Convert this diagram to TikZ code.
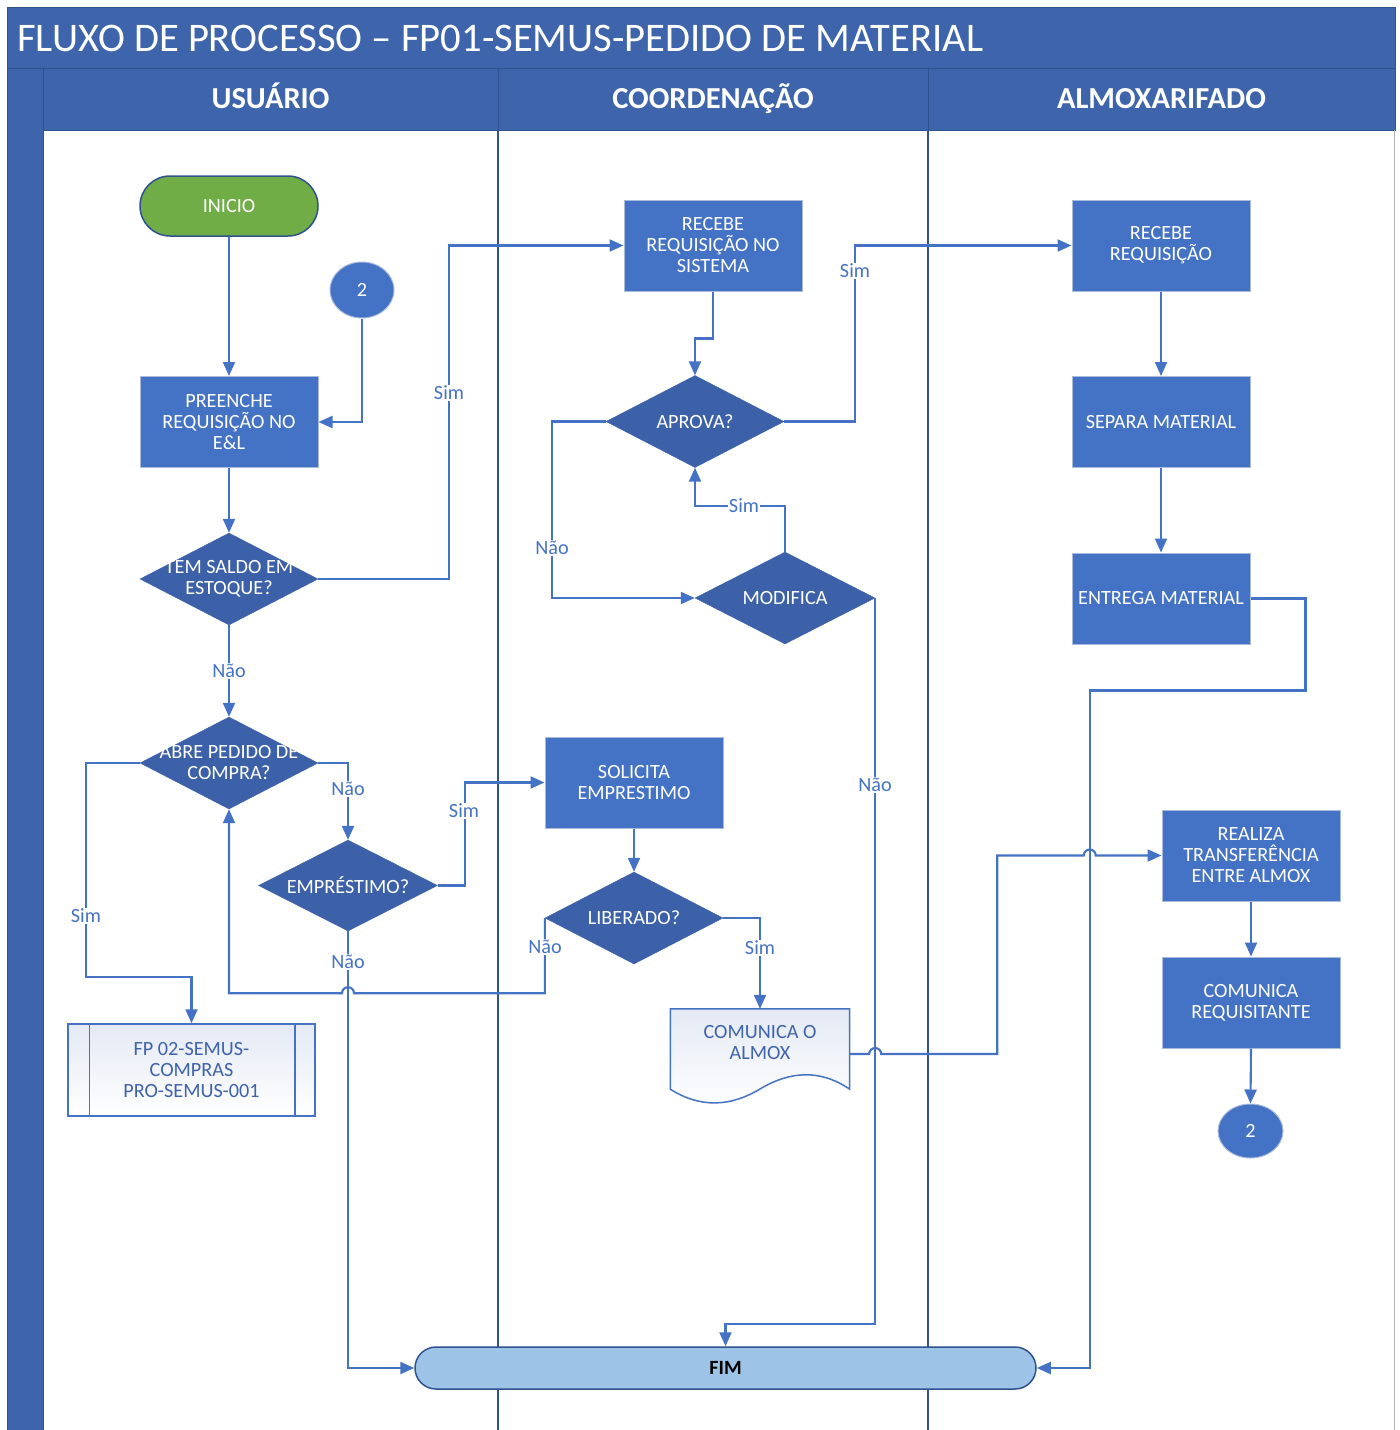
\documentclass[tikz,border=0pt]{standalone}
\usepackage{fontspec}
\setmainfont{Carlito}
\usetikzlibrary{arrows.meta,shapes.geometric,calc}
\definecolor{hdr}{HTML}{3E64AB}
\definecolor{hdrline}{HTML}{2F528F}
\definecolor{boxblue}{HTML}{4472C4}
\definecolor{boxedge}{HTML}{A9BADB}
\definecolor{diablue}{HTML}{3C61A8}
\definecolor{connblue}{HTML}{4472C4}
\definecolor{laneline}{HTML}{2F528F}
\definecolor{startgreen}{HTML}{70AD47}
\definecolor{endblue}{HTML}{9DC3E6}
\definecolor{doctext}{HTML}{3F63AB}
\definecolor{docshade}{HTML}{E4E9F4}
\newcommand\bfnt{\fontsize{20.2}{21}\selectfont}
\begin{document}
\begin{tikzpicture}[x=1pt,y=-1pt,
  proc/.style={rectangle, fill=boxblue, draw=boxedge, line width=1pt, minimum width=178pt, minimum height=91pt, inner sep=1pt, align=center, text=white, font=\bfnt},
  dec/.style={diamond, fill=diablue, draw=diablue, minimum width=178pt, minimum height=92pt, inner sep=0pt},
  dectext/.style={text=white, font=\bfnt, align=center},
  conn/.style={draw=connblue, line width=2.1pt, -{Triangle[length=14pt,width=12pt]}},
  lbl/.style={fill=white, text=connblue, font=\bfnt, inner sep=1pt},
  hdrcell/.style={fill=hdr, draw=hdrline, line width=1pt},
  hdrtext/.style={text=white, font=\fontsize{30.5}{32}\selectfont\bfseries, anchor=base},
  conncircle/.style={ellipse, fill=boxblue, draw=boxedge, line width=1pt, minimum width=64pt, minimum height=56pt, inner sep=0pt, text=white, font=\bfnt}
]
\useasboundingbox (0,0) rectangle (1400,1430);
\fill[white] (0,0) rectangle (1400,1430);
% title bar
\filldraw[hdrcell] (7,7) rectangle (1395,68);
\node[anchor=west, text=white, font=\fontsize{40.6}{44}\selectfont, inner sep=0pt] (title) at (17,38) {FLUXO DE PROCESSO – FP01-SEMUS-PEDIDO DE MATERIAL};
% left strip
\filldraw[hdrcell] (7,68) rectangle (43,1432);
% lane headers
\filldraw[hdrcell] (43,68) rectangle (498,130);
\filldraw[hdrcell] (498,68) rectangle (928,130);
\filldraw[hdrcell] (928,68) rectangle (1395,130);
\node[hdrtext] (h1) at (270.5,108) {USUÁRIO};
\node[hdrtext] (h2) at (713,108) {COORDENAÇÃO};
\node[hdrtext] (h3) at (1161.5,108) {ALMOXARIFADO};
% lane borders
\draw[gray!60, line width=1pt] (1394,130) -- (1394,1432);
\draw[laneline, line width=2.2pt] (498,130) -- (498,1432);
\draw[laneline, line width=2.2pt] (928,130) -- (928,1432);

% USUARIO nodes
\node[rectangle, rounded corners=30pt, fill=startgreen, draw=hdrline, line width=1.5pt, minimum width=178pt, minimum height=60pt, text=white, font=\bfnt] (inicio) at (229,206) {INICIO};
\node[conncircle] (c2a) at (362,290) {2};
\node[proc] (preenche) at (229,422) {PREENCHE\\REQUISIÇÃO NO\\E\&L};
\node[dec, label={[dectext]center:TEM SALDO EM\\ESTOQUE?}] (saldo) at (229,579) {};
\node[dec, label={[dectext]center:ABRE PEDIDO DE\\COMPRA?}] (abre) at (229,763) {};
\node[dec, minimum width=179pt, minimum height=91pt, label={[dectext]center:EMPRÉSTIMO?}] (emp) at (348,885.5) {};
\node[draw=connblue, line width=1.5pt, top color=docshade, bottom color=white, minimum width=247pt, minimum height=92pt, inner sep=0pt, text=doctext, font=\bfnt, align=center] (fp02) at (191.5,1070) {FP 02-SEMUS-\\COMPRAS\\PRO-SEMUS-001};
\draw[connblue, line width=1.5pt] ([xshift=22pt]fp02.north west) -- ([xshift=22pt]fp02.south west);
\draw[connblue, line width=1.5pt] ([xshift=-21pt]fp02.north east) -- ([xshift=-21pt]fp02.south east);

% COORDENACAO nodes
\node[proc] (recsis) at (713,245.5) {RECEBE\\REQUISIÇÃO NO\\SISTEMA};
\node[dec, label={[dectext]center:APROVA?}] (aprova) at (695,421.5) {};
\node[dec, minimum width=180pt, label={[dectext]center:MODIFICA}] (modif) at (785,598) {};
\node[proc] (solic) at (634,782.5) {SOLICITA\\EMPRESTIMO};
\node[dec, label={[dectext]center:LIBERADO?}] (lib) at (634,918) {};
\node[minimum width=179pt, minimum height=80pt, inner sep=0pt] (almox) at (760,1049) {};
\path[draw=connblue, line width=1.5pt, top color=docshade, bottom color=white] (almox.north west) -- (almox.north east) -- (almox.south east) .. controls (820,1069) and (790,1071) .. (760,1089) .. controls (730,1107) and (700,1108) .. (almox.south west) -- cycle;
\node[text=doctext, font=\bfnt, align=center] (almoxtext) at ($(almox.center)+(0,-6.5)$) {COMUNICA O\\ALMOX};

% ALMOXARIFADO nodes
\node[proc] (recreq) at (1161,245.5) {RECEBE\\REQUISIÇÃO};
\node[proc] (separa) at (1161,422) {SEPARA MATERIAL};
\node[proc] (entrega) at (1161,598.5) {ENTREGA MATERIAL};
\node[proc] (real) at (1251,855.5) {REALIZA\\TRANSFERÊNCIA\\ENTRE ALMOX};
\node[proc] (comreq) at (1251,1002.5) {COMUNICA\\REQUISITANTE};
\node[conncircle, minimum width=65pt, minimum height=54pt] (c2b) at (1250.5,1131) {2};

% FIM
\node[rectangle, rounded corners=21pt, fill=endblue, draw=hdrline, line width=1.5pt, minimum width=621pt, minimum height=42pt, font=\bfnt\bfseries, text=black] (fim) at (725.5,1368) {FIM};

% connectors
\draw[conn] (inicio.south) -- (preenche.north);
\draw[conn] (c2a.south) |- (preenche.east);
\draw[conn] (preenche.south) -- (saldo.north);
\draw[conn] (saldo.east) -- ++(131,0) |- (recsis.west);
\draw[conn] (saldo.south) -- (abre.north);
\draw[conn] (abre.west) -- ++(-54,0) |- ($(fp02.north)+(0,-46)$) -- (fp02.north);
\draw[conn] (abre.east) -| (emp.north);
\draw[conn] (emp.east) -- ++(27,0) |- (solic.west);
\draw[conn] (emp.south) |- (fim.west);
\coordinate (hopA) at ($(emp.south)+(0,62)$);
\draw[conn] (lib.west) |- ([xshift=6pt]hopA) arc[start angle=0,end angle=180,radius=6pt] -- (abre.south |- hopA) -- (abre.south);
\draw[conn] (solic.south) -- (lib.north);
\draw[conn] (lib.east) -| (almox.north);
\draw[conn] (recsis.south) -- ++(0,47) -| (aprova.north);
\draw[conn] (aprova.east) -- ++(71,0) |- (recreq.west);
\draw[conn] (aprova.west) -- ++(-54,0) |- (modif.west);
\draw[conn] (modif.north) -- ++(0,-46) -| (aprova.south);
\draw[conn] (modif.east) |- ($(fim.north)+(0,-22)$) -- (fim.north);
\draw[conn] (recreq.south) -- (separa.north);
\draw[conn] (separa.south) -- (entrega.north);
\draw[conn] (entrega.east) -- ++(55,0) -- ++(0,92) -| ([xshift=53pt]fim.east) -- (fim.east);
\coordinate (docout) at ([yshift=-5pt]almox.east);
\coordinate (hopB) at (modif.east |- docout);
\coordinate (hopC) at ([xshift=53pt]fim.east |- real.west);
\draw[conn] (docout) -- ([xshift=-6pt]hopB) arc[start angle=180,end angle=0,radius=6pt] -- ++(116,0) |- ([xshift=-6pt]hopC) arc[start angle=180,end angle=0,radius=6pt] -- (real.west);
\draw[conn] (real.south) -- (comreq.north);
\draw[conn] (comreq.south) -- (c2b.north);

% labels
\node[lbl] (l1) at (449,393) {Sim};
\node[lbl] (l2) at (229,671) {Não};
\node[lbl] (l3) at (86,916) {Sim};
\node[lbl] (l4) at (348,789) {Não};
\node[lbl] (l5) at (464,811) {Sim};
\node[lbl] (l6) at (348,962) {Não};
\node[lbl] (l7) at (545,947) {Não};
\node[lbl] (l8) at (760,948) {Sim};
\node[lbl] (l9) at (855,271) {Sim};
\node[lbl] (l10) at (552,548) {Não};
\node[lbl] (l11) at (744,506) {Sim};
\node[lbl] (l12) at (875,785) {Não};
\end{tikzpicture}
\end{document}
